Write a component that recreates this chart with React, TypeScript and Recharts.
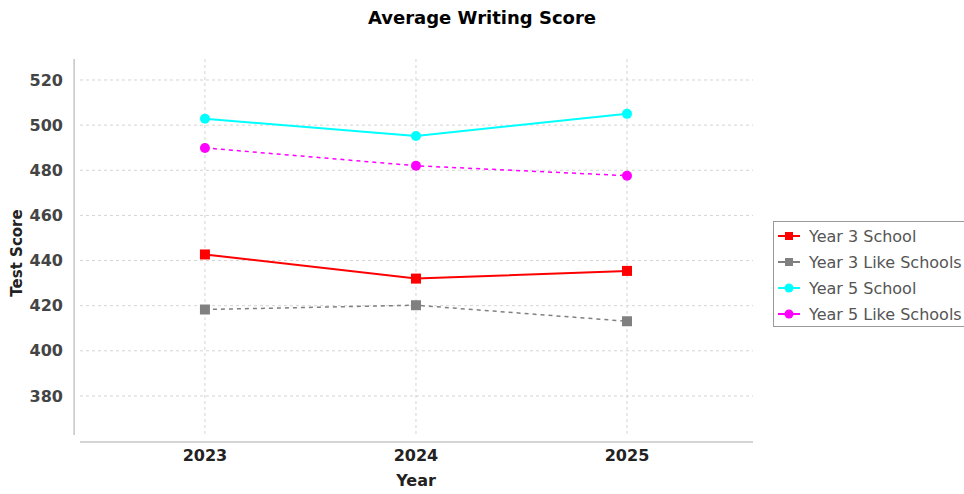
import React from "react";
import { LineChart, Line, XAxis, YAxis, CartesianGrid, ReferenceLine } from "recharts";

const years = [2023, 2024, 2025];
const year3School = [442.7, 432.0, 435.4];
const year3Like = [418.3, 420.2, 413.1];
const year5School = [502.8, 495.2, 505.0];
const year5Like = [489.9, 482.0, 477.6];
const yTicks = [380, 400, 420, 440, 460, 480, 500, 520];

const seriesInfo = [
  { key: "y3s", name: "Year 3 School", color: "#FF0000", shape: "square", dash: undefined as string | undefined, width: 2 },
  { key: "y3l", name: "Year 3 Like Schools", color: "#808080", shape: "square", dash: "4 4", width: 1.5 },
  { key: "y5s", name: "Year 5 School", color: "#00FFFF", shape: "circle", dash: undefined as string | undefined, width: 2 },
  { key: "y5l", name: "Year 5 Like Schools", color: "#FF00FF", shape: "circle", dash: "4 4", width: 1.5 },
];

const data = years.map((y, i) => ({
  year: y,
  y3s: year3School[i],
  y3l: year3Like[i],
  y5s: year5School[i],
  y5l: year5Like[i],
}));

const FONT = "'DejaVu Sans', sans-serif";

function makeDot(color: string, shape: string) {
  return (props: any) => {
    const { cx, cy, index } = props;
    if (cx == null || cy == null) return <g key={index} />;
    if (shape === "square") {
      return <rect key={index} x={cx - 5} y={cy - 5} width={10} height={10} fill={color} />;
    }
    return <circle key={index} cx={cx} cy={cy} r={5} fill={color} />;
  };
}

function LegendIcon({ color, shape }: { color: string; shape: string }) {
  return (
    <svg width={24} height={12} style={{ display: "block" }}>
      <line x1={1} y1={6} x2={23} y2={6} stroke={color} strokeWidth={2} />
      {shape === "square" ? (
        <rect x={8} y={2} width={8} height={8} fill={color} />
      ) : (
        <circle cx={12} cy={6} r={4.5} fill={color} />
      )}
    </svg>
  );
}

export default function App() {
  return (
    <div style={{ position: "absolute", left: 0, top: 0, width: 964, height: 494, background: "#fff", overflow: "hidden", fontFamily: FONT }}>
      <div style={{ position: "absolute", left: 0, width: 964, top: 7, textAlign: "center", fontWeight: "bold", fontSize: 18, color: "#000" }}>
        Average Writing Score
      </div>
      <LineChart
        width={964}
        height={494}
        data={data}
        margin={{ top: 59, left: 0, right: 211, bottom: 0 }}
      >
        <CartesianGrid
          stroke="#d4d4d4"
          strokeDasharray="3 3"
          horizontalValues={yTicks}
          verticalValues={years}
        />
        <XAxis
          dataKey="year"
          type="number"
          domain={[2022.408, 2025.597]}
          ticks={years}
          allowDataOverflow
          height={59}
          axisLine={false}
          tickLine={false}
          tickSize={6}
          tickMargin={9}
          tick={{ fill: "#222", fontSize: 16, fontWeight: "bold", fontFamily: FONT }}
        />
        <YAxis
          type="number"
          domain={[362.7, 529.3]}
          ticks={yTicks}
          allowDataOverflow
          width={80}
          axisLine={false}
          tickLine={false}
          tickSize={6}
          tickMargin={11}
          tick={{ fill: "#444", fontSize: 16, fontWeight: "bold", fontFamily: FONT }}
        />
        <ReferenceLine x={2022.38} stroke="#aaaaaa" strokeWidth={1} ifOverflow="visible" />
        <ReferenceLine y={359.6} stroke="#aaaaaa" strokeWidth={1} ifOverflow="visible" />
        {seriesInfo.map((s) => (
          <Line
            key={s.key}
            dataKey={s.key}
            name={s.name}
            stroke={s.color}
            strokeWidth={s.width}
            strokeDasharray={s.dash}
            dot={makeDot(s.color, s.shape)}
            activeDot={false}
            isAnimationActive={false}
          />
        ))}
      </LineChart>
      <div style={{ position: "absolute", left: 406, width: 20, top: 471, textAlign: "center", fontWeight: "bold", fontSize: 16, color: "#222", display: "flex", justifyContent: "center" }}>
        <span style={{ whiteSpace: "nowrap" }}>Year</span>
      </div>
      <div
        style={{
          position: "absolute",
          left: 17,
          top: 253,
          transform: "translate(-50%, -50%) rotate(-90deg)",
          fontWeight: "bold",
          fontSize: 15,
          color: "#222",
          whiteSpace: "nowrap",
        }}
      >
        Test Score
      </div>
      <div
        style={{
          position: "absolute",
          left: 773,
          top: 221,
          width: 200,
          height: 106,
          border: "1px solid #999",
          boxSizing: "border-box",
        }}
      >
        {seriesInfo.map((s, i) => (
          <div
            key={s.key}
            style={{ position: "absolute", left: 3, top: 4 + i * 26, height: 20, display: "flex", alignItems: "center", whiteSpace: "nowrap" }}
          >
            <LegendIcon color={s.color} shape={s.shape} />
            <span style={{ marginLeft: 8, fontSize: 16, color: "#555" }}>{s.name}</span>
          </div>
        ))}
      </div>
    </div>
  );
}
